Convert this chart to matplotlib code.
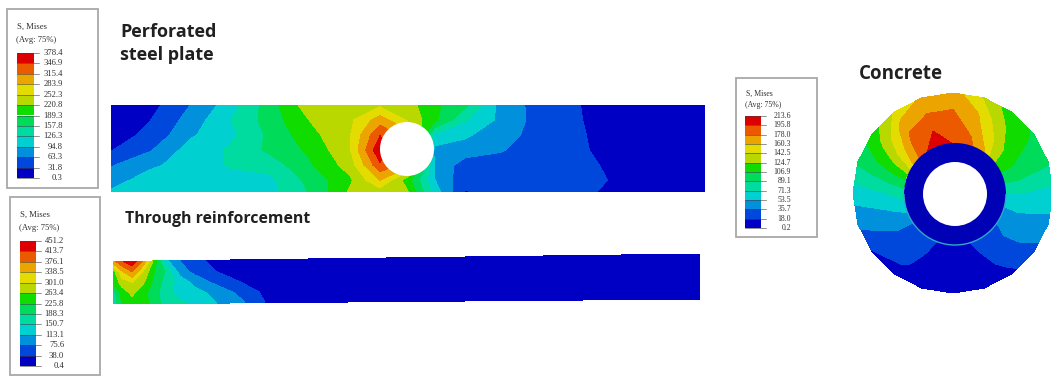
import numpy as np
import matplotlib
matplotlib.use('Agg')
import matplotlib.pyplot as plt
from matplotlib.patches import Rectangle, Circle, Arc

# contour band colours, blue to red
band_colors = ['#0000c4', '#0048dc', '#0090dc', '#00d0d0', '#00dca0', '#00dc5a',
               '#10dc00', '#b8d800', '#e4dc00', '#eca400', '#ec5a00', '#dc0000']

plate_labels = ['378.4', '346.9', '315.4', '283.9', '252.3', '220.8', '189.3', '157.8', '126.3', '94.8', '63.3', '31.8', '0.3']
rebar_labels = ['451.2', '413.7', '376.1', '338.5', '301.0', '263.4', '225.8', '188.3', '150.7', '113.1', '75.6', '38.0', '0.4']
concrete_labels = ['213.6', '195.8', '178.0', '160.3', '142.5', '124.7', '106.9', '89.1', '71.3', '53.5', '35.7', '18.0', '0.2']

# stress on the plate, columns along the plate and rows top to bottom
plate_x = [111, 150, 190, 230, 270, 310, 350, 380, 407, 435, 465, 500, 540, 580, 620, 705]
plate_y = [105, 120, 135, 150, 165, 180, 192]
plate_stress = [
    [5, 20, 63, 110, 175, 240, 240, 245, 235, 195, 165, 85, 50, 32, 15, 5],
    [8, 31, 75, 125, 172, 222, 245, 300, 250, 195, 130, 88, 50, 33, 15, 5],
    [20, 38, 90, 118, 165, 210, 250, 345, 300, 120, 100, 75, 52, 35, 15, 5],
    [30, 60, 108, 130, 165, 195, 250, 375, 300, 85, 80, 66, 48, 36, 18, 5],
    [60, 90, 105, 130, 140, 185, 235, 340, 300, 90, 48, 50, 45, 38, 25, 5],
    [85, 105, 110, 112, 118, 168, 215, 285, 205, 95, 40, 45, 42, 38, 29, 5],
    [98, 108, 112, 115, 118, 160, 225, 235, 225, 110, 30, 40, 40, 36, 26, 5],
]

# stress on the bar, rows top to bottom across its depth
rebar_x = [113, 122, 132, 143, 155, 167, 180, 195, 217, 240, 265, 300, 700]
rebar_depth = [0, 0.25, 0.5, 0.75, 1]
rebar_stress = [
    [360, 410, 440, 370, 240, 118, 75, 45, 30, 25, 20, 15, 5],
    [240, 330, 375, 300, 220, 180, 94, 62, 36, 25, 20, 15, 5],
    [230, 280, 300, 270, 210, 170, 135, 100, 62, 37, 25, 15, 5],
    [170, 240, 270, 240, 200, 165, 135, 125, 101, 65, 30, 15, 5],
    [150, 230, 250, 245, 205, 170, 160, 140, 113, 85, 38, 15, 5],
]

# stress on the concrete, one row per angle clockwise from the top, inner to outer
concrete_angle = [0, 18, 36, 54, 72, 90, 108, 126, 144, 162, 180, 198, 216, 234, 252, 270, 288, 306, 324, 342]
concrete_radius = [50, 66.5, 83.5, 100]
concrete_stress = [
    [195, 188, 178, 170],
    [185, 172, 160, 140],
    [165, 145, 128, 115],
    [125, 118, 110, 105],
    [100, 100, 95, 92],
    [72, 72, 68, 65],
    [48, 52, 50, 48],
    [34, 38, 36, 30],
    [25, 28, 22, 14],
    [18, 12, 8, 5],
    [16, 6, 4, 3],
    [18, 12, 8, 5],
    [28, 30, 22, 8],
    [36, 34, 28, 17],
    [60, 50, 44, 40],
    [80, 72, 66, 62],
    [110, 105, 98, 92],
    [160, 145, 130, 115],
    [192, 185, 170, 145],
    [205, 195, 178, 165],
]


def draw_legend(ax, box, bar, label_x, labels, title_y, size):
    x0, y0, x1, y1 = box
    ax.add_patch(Rectangle((x0, y0), x1 - x0, y1 - y0, fc='white', ec='#a8a8a8', lw=1.3))
    ax.text(x0 + 10, title_y[0], 'S, Mises', family='Liberation Serif', fontsize=size, color='#303030', va='center')
    ax.text(x0 + 9, title_y[1], '(Avg: 75%)', family='Liberation Serif', fontsize=size, color='#303030', va='center')
    bx0, by0, bx1, by1 = bar
    step = (by1 - by0) / len(band_colors)
    for i, c in enumerate(band_colors[::-1]):
        ax.bar(bx0, step, width=bx1 - bx0, bottom=by0 + i * step, align='edge', color=c, lw=0)
    for i, lab in enumerate(labels):
        y = by0 + i * step
        ax.plot([bx0, bx1 + 5], [y, y], color='#404040', lw=0.4)
        ax.text(label_x, y, lab, family='Liberation Serif', fontsize=size, color='#303030', ha='right', va='center')


def levels_from(labels):
    return [float(v) for v in labels[::-1]]


fig = plt.figure(figsize=(10.51, 3.77), dpi=100)
ax = fig.add_axes([0, 0, 1, 1])
ax.set_xlim(0, 1051)
ax.set_ylim(377, 0)
ax.axis('off')

# plate
ax.contourf(plate_x, plate_y, np.array(plate_stress), levels=levels_from(plate_labels), colors=band_colors)
ax.add_patch(Circle((407, 149), 27, fc='white', ec='none'))

# bar, slightly tilted
rx = np.array(rebar_x, dtype=float)
top = 261.5 - (rx - 113) * 7.5 / 587
bottom = 304 - (rx - 113) * 5 / 587
ry = np.array([top + d * (bottom - top) for d in rebar_depth])
ax.contourf(np.tile(rx, (len(rebar_depth), 1)), ry, np.array(rebar_stress),
            levels=levels_from(rebar_labels), colors=band_colors)

# concrete ring
th = np.radians(concrete_angle + [360])
rr = np.array(concrete_radius)
T, R = np.meshgrid(th, rr, indexing='ij')
cx = 953
cy = 193
vals = np.array(concrete_stress + [concrete_stress[0]])
ax.contourf(cx + R * np.sin(T), cy - R * np.cos(T), vals, levels=levels_from(concrete_labels), colors=band_colors)
ax.add_patch(Circle((955, 194), 51, fc='#0000b4', ec='none'))
ax.add_patch(Arc((955, 194), 102, 102, theta1=0, theta2=180, ec='#30a8c8', lw=1))
ax.add_patch(Circle((955, 194), 32, fc='white', ec='none'))

draw_legend(ax, (7, 9, 98, 188), (17, 53, 34, 178), 63, plate_labels, (27, 40), 6.2)
draw_legend(ax, (10, 197, 100, 375), (20, 241, 36, 366), 64, rebar_labels, (215, 228), 6.2)
draw_legend(ax, (736, 78, 817, 237), (745, 116, 761, 228), 791, concrete_labels, (94, 105), 5.6)

ax.text(120, 32, 'Perforated', family='Open Sans', weight='bold', fontsize=13, color='#202020', va='center')
ax.text(120, 55, 'steel plate', family='Open Sans', weight='bold', fontsize=13, color='#202020', va='center')
ax.text(125, 219, 'Through reinforcement', family='Open Sans', weight='bold', fontsize=11.4, color='#202020', va='center')
ax.text(859, 74, 'Concrete', family='Open Sans', weight='bold', fontsize=13.5, color='#202020', va='center')

fig.savefig('out.png', dpi=100)
